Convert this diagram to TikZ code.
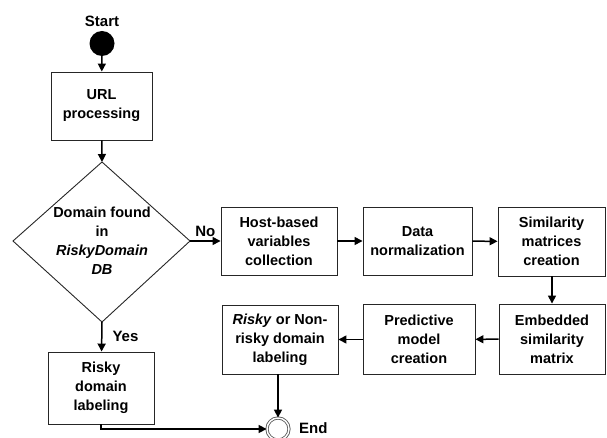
\documentclass[tikz,border=0pt]{standalone}
\usepackage{fontspec}
\setmainfont{Liberation Sans}
\usetikzlibrary{arrows.meta}
\begin{document}
\begin{tikzpicture}[x=1pt,y=-1pt,
  txt/.style={font=\fontsize{14.5}{19}\selectfont\bfseries, align=center},
  box/.style={txt, draw=black!85, line width=0.9pt, inner sep=0pt},
  arr/.style={line width=1.5pt, -{Triangle[length=8pt,width=8pt]}},
  lbl/.style={font=\fontsize{15}{17}\selectfont\bfseries, inner sep=0pt}]
\useasboundingbox (0,0) rectangle (607,438);
% start
\node[lbl] (starttxt) at (102,21) {Start};
\node[circle, fill=black, minimum size=25pt, inner sep=0pt] (start) at (102,43.5) {};
% url
\node[box, minimum width=101pt, minimum height=68pt] (url) at (101.5,106) {URL\\processing};
% diamond
\coordinate (dt) at (102,162);
\coordinate (dl) at (13,241);
\coordinate (dr) at (190,241);
\coordinate (db) at (102,322);
\draw[draw=black!85, line width=0.9pt] (dt) -- (dr) -- (db) -- (dl) -- cycle;
\node[txt] (dtxt) at (102,241) {Domain found\\in\\\textit{RiskyDomain}\\\textit{DB}};
% boxes
\node[box, minimum width=106pt, minimum height=72pt] (risky) at (101,388) {Risky\\domain\\labeling};
\node[box, minimum width=116pt, minimum height=68pt] (host) at (279,241) {Host-based\\variables\\collection};
\node[box, minimum width=109pt, minimum height=68pt] (data) at (417.5,241) {Data\\normalization};
\node[box, minimum width=107pt, minimum height=69pt] (sim) at (551.5,241.5) {Similarity\\matrices\\creation};
\node[box, minimum width=106pt, minimum height=70pt] (emb) at (552,339) {Embedded\\similarity\\matrix};
\node[box, minimum width=112pt, minimum height=70pt] (pred) at (419,339.5) {Predictive\\model\\creation};
\node[box, minimum width=116pt, minimum height=69pt] (rnr) at (280,339.5) {\textit{Risky} or Non-\\risky domain\\labeling};
% end
\node[circle, draw=black!70, line width=0.8pt, minimum size=22pt, inner sep=0pt, double=white, double distance=1.5pt] (end) at (278,429) {};
\node[lbl, anchor=west] (endtxt) at (299,428.5) {End};
% arrows
\draw[arr] (start) -- (url);
\draw[arr] (url) -- (dt);
\draw[arr] (db) -- (risky) node[lbl, pos=0.5, right=10pt] (yes) {Yes};
\draw[arr] (dr) -- (host) node[lbl, midway, above=4pt] (no) {No};
\draw[arr] (host) -- (data);
\draw[arr] (data) -- (sim);
\draw[arr] (sim.south -| emb.north) -- (emb);
\draw[arr] (emb) -- (pred);
\draw[arr] (pred) -- (rnr);
\draw[arr] (rnr.south -| end.north) -- (end);
\draw[arr] (risky.south) |- (end);
\end{tikzpicture}
\end{document}
